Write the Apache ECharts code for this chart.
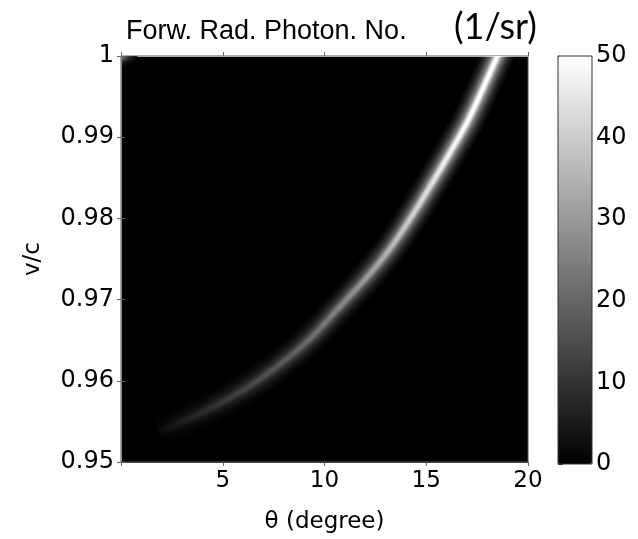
<!DOCTYPE html>
<html>
<head>
<meta charset="utf-8">
<script src="https://cdn.jsdelivr.net/npm/echarts@6/dist/echarts.min.js"></script>
<style>html,body{margin:0;padding:0;background:#fff;}#c{width:638px;height:539px;}</style>
</head>
<body>
<div id="c"></div>
<script>
// Ridge of the emission: angle, speed, peak photon number
const ridgeTheta = [1.9, 3.05, 4.7, 6.35, 7.9, 9.3, 10.6, 12.1, 13.2, 14.2, 15.3, 16.05, 17.0, 17.75, 18.5, 18.7];
const ridgeBeta  = [0.9537, 0.9550, 0.9570, 0.9594, 0.9622, 0.9652, 0.9687, 0.9728, 0.9762, 0.9799, 0.9844, 0.9876, 0.9918, 0.9958, 1.0, 1.001];
const ridgeValue = [2, 6, 10, 14, 17, 21, 25, 30, 35, 40, 44, 47, 49, 50, 50, 50];
// Faint spot in the top-left corner
const spotTheta = [0.0, 0.35, 0.8];
const spotBeta  = [0.9998, 0.9998, 0.9998];
const spotValue = [26, 10, 0];
// Axis ticks
const xTicks = [0, 5, 10, 15, 20];
const yTicks = [0.95, 0.96, 0.97, 0.98, 0.99, 1];
const cbTicks = [0, 10, 20, 30, 40, 50];
const cbMax = 50;

const FONT = 'DejaVu Sans';

function gray(v) {
  const g = Math.round(Math.max(0, Math.min(1, v / cbMax)) * 255);
  return 'rgb(' + g + ',' + g + ',' + g + ')';
}

function makeRender(th, be, val, layers) {
  return function (params, api) {
    if (params.dataIndex !== 0) return null;
    const pts = th.map((t, i) => api.coord([t, be[i]]));
    const p0 = pts[0], p1 = pts[pts.length - 1];
    const dx = p1[0] - p0[0], dy = p1[1] - p0[1], L2 = dx * dx + dy * dy;
    const stops = pts.map((p, i) => ({
      offset: Math.max(0, Math.min(1, ((p[0] - p0[0]) * dx + (p[1] - p0[1]) * dy) / L2)),
      color: gray(val[i])
    }));
    const children = layers.map(l => ({
      type: 'polyline',
      shape: { points: pts, smooth: 0.35 },
      style: {
        fill: null,
        stroke: new echarts.graphic.LinearGradient(p0[0], p0[1], p1[0], p1[1], stops, true),
        lineWidth: l[0],
        opacity: l[1],
        lineCap: 'butt',
        lineJoin: 'round'
      }
    }));
    return { type: 'group', children: children };
  };
}

const chart = echarts.init(document.getElementById('c'));

const axisLineStyle = { color: '#444', width: 1 };
const tickStyle = { color: '#666', width: 1 };

const ridgeLayers = [[32, 0.05], [27, 0.06], [23, 0.08], [19, 0.1], [16, 0.12], [13, 0.15], [10, 0.2], [8, 0.28], [6, 0.45], [4, 0.7], [2.5, 1]];
const spotLayers = [[16, 0.12], [12, 0.18], [8, 0.3], [5, 0.45], [3, 0.6]];

chart.setOption({
  backgroundColor: '#fff',
  animation: false,
  title: [
    { text: 'Forw. Rad. Photon. No.', left: 121, top: 13,
      textStyle: { fontFamily: 'Liberation Sans', fontSize: 27, fontWeight: 'normal', color: '#000' } },
    { text: '(1/sr)', left: 449, top: 4,
      textStyle: { fontFamily: 'Lato', fontSize: 36, fontWeight: 'normal', color: '#000' } }
  ],
  grid: [
    { left: 121, top: 56, right: 110, bottom: 75, show: true, backgroundColor: '#000', borderColor: '#555', borderWidth: 1 },
    { left: 558, top: 56, width: 34, height: 408, show: true, backgroundColor: 'transparent', borderColor: '#333', borderWidth: 1, z: 10 }
  ],
  xAxis: [
    { gridIndex: 0, type: 'value', min: xTicks[0], max: xTicks[xTicks.length - 1], interval: 5,
      position: 'bottom', splitLine: { show: false },
      axisLine: { lineStyle: axisLineStyle },
      axisTick: { inside: false, length: 4, lineStyle: tickStyle },
      axisLabel: { margin: 8, color: '#000', fontFamily: FONT, fontSize: 23,
        formatter: v => (v === 0 ? '' : String(v)) },
      name: 'θ (degree)', nameLocation: 'middle', nameGap: 49,
      nameTextStyle: { color: '#000', fontFamily: FONT, fontSize: 23 } },
    { gridIndex: 0, type: 'value', min: xTicks[0], max: xTicks[xTicks.length - 1], interval: 5,
      position: 'top', splitLine: { show: false },
      axisLine: { lineStyle: { color: '#aaa' } },
      axisTick: { inside: false, length: 4, lineStyle: tickStyle },
      axisLabel: { show: false } },
    { gridIndex: 1, type: 'value', min: 0, max: 1, show: false }
  ],
  yAxis: [
    { gridIndex: 0, type: 'value', min: yTicks[0], max: yTicks[yTicks.length - 1], interval: 0.01,
      position: 'left', splitLine: { show: false },
      axisLine: { lineStyle: axisLineStyle },
      axisTick: { inside: false, length: 4, lineStyle: tickStyle },
      axisLabel: { margin: 7, color: '#000', fontFamily: FONT, fontSize: 24,
        formatter: v => (Math.abs(v - 1) < 1e-9 ? '1' : v.toFixed(2)) },
      name: 'v/c', nameLocation: 'middle', nameGap: 76,
      nameTextStyle: { color: '#000', fontFamily: FONT, fontSize: 23 } },
    { gridIndex: 0, type: 'value', min: yTicks[0], max: yTicks[yTicks.length - 1], interval: 0.01,
      position: 'right', splitLine: { show: false },
      axisLine: { lineStyle: { color: '#888' } },
      axisTick: { inside: false, length: 4, lineStyle: tickStyle },
      axisLabel: { show: false } },
    { gridIndex: 1, type: 'value', min: cbTicks[0], max: cbTicks[cbTicks.length - 1], interval: 10,
      position: 'right', splitLine: { show: false },
      axisLine: { show: true, lineStyle: { color: '#333' } },
      axisTick: { show: true, inside: false, length: 5, lineStyle: { color: '#333' } },
      axisLabel: { margin: 4, color: '#000', fontFamily: FONT, fontSize: 24 } }
  ],
  visualMap: {
    type: 'continuous', min: 0, max: cbMax, dimension: 2, seriesIndex: [0, 1],
    calculable: false, show: true, left: 558, top: 56, itemWidth: 34, itemHeight: 408,
    padding: 0, text: null, inRange: { color: ['#000000', '#ffffff'] }, z: 5
  },
  series: [
    { type: 'custom', xAxisIndex: 0, yAxisIndex: 0, clip: true,
      data: ridgeTheta.map((t, i) => [t, ridgeBeta[i], ridgeValue[i]]),
      renderItem: makeRender(ridgeTheta, ridgeBeta, ridgeValue, ridgeLayers) },
    { type: 'custom', xAxisIndex: 0, yAxisIndex: 0, clip: true,
      data: spotTheta.map((t, i) => [t, spotBeta[i], spotValue[i]]),
      renderItem: makeRender(spotTheta, spotBeta, spotValue, spotLayers) }
  ]
});
</script>
</body>
</html>
